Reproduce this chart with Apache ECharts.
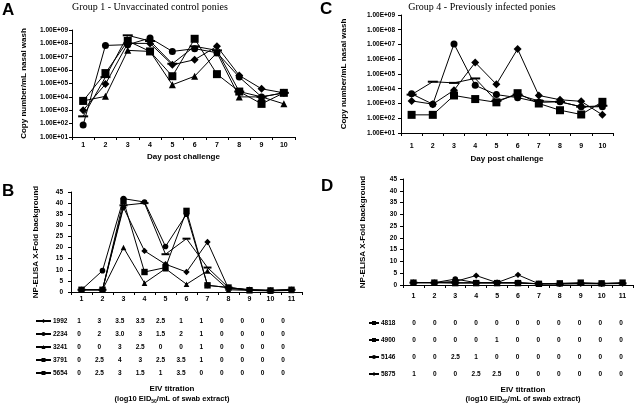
<!DOCTYPE html>
<html>
<head>
<meta charset="utf-8">
<script src="https://cdn.jsdelivr.net/npm/echarts@6/dist/echarts.min.js"></script>
<style>
  html, body { margin: 0; padding: 0; background: #fff; }
  #chart { width: 635px; height: 404px; }
</style>
</head>
<body>
<div id="chart"></div>
<script>
// x categories
const days = ["1", "2", "3", "4", "5", "6", "7", "8", "9", "10"];
const swabs = ["1", "2", "3", "4", "5", "6", "7", "8", "9", "10", "11"];

// A - group 1, copy number/mL (log scale)
const a1992 = [1e3, 9e4, 1e8, 1e8, 2.5e6, 6e6, 6e7, 4e5, 4e4, 2e4];
const a2234 = [80, 7e7, 8e7, 2.5e8, 2.5e7, 4e7, 2e7, 3e5, 1e4, 2e4];
const a3241 = [5e3, 1.1e4, 3e7, 2.5e7, 8e4, 3.5e5, 2e7, 1e4, 1e4, 3e3];
const a3791 = [350, 3e5, 4e8, 1.5e8, 3e6, 6e7, 3e7, 2.5e4, 1e4, 2e4];
const a5654 = [5e3, 6e5, 1.5e8, 2.5e7, 3.5e5, 2.2e8, 5e5, 2.5e4, 3e3, 2e4];

// C - group 4, copy number/mL (log scale)
const c4818 = [170, 170, 3.5e3, 2e3, 1.2e3, 5e3, 1e3, 350, 180, 1.3e3];
const c4900 = [4e3, 3e4, 2.5e4, 5e4, 1.5e3, 4e3, 1.5e3, 1.3e3, 600, 700];
const c5146 = [4.5e3, 900, 1.1e7, 1.7e4, 4e3, 2.5e3, 1.2e3, 1.3e3, 600, 600];
const c5875 = [1.5e3, 900, 8e3, 6e5, 2e4, 5e6, 3.5e3, 1.8e3, 1.4e3, 170];

// B - group 1, NP-ELISA x-fold
const b1992 = [1, 1, 38, 18.5, 12.5, 9, 22.5, 1.5, 1, 0.7, 1];
const b2234 = [1, 9.6, 42, 40.5, 20.5, 35, 3, 2, 1, 0.7, 1];
const b3241 = [1, 1, 20, 4, 10.5, 3.5, 9.5, 1, 0.7, 0.5, 0.7];
const b3791 = [1, 1, 39, 40, 17, 24, 11, 2, 1, 0.7, 1];
const b5654 = [1, 1, 41, 9, 11, 36.5, 3, 2, 0.8, 0.7, 1];

// D - group 4, NP-ELISA x-fold
const d4818 = [1, 1, 0.8, 0.8, 0.8, 0.8, 0.5, 0.7, 1, 0.7, 1];
const d4900 = [1, 1, 1, 1, 1, 1, 0.5, 0.5, 0.6, 0.6, 0.7];
const d5146 = [1, 1, 2.5, 1, 1, 1, 0.5, 0.5, 0.6, 0.6, 0.7];
const d5875 = [1, 1, 1.5, 4, 1, 4.3, 0.5, 0.5, 0.6, 0.5, 0.6];

// EIV titration tables
const ponyB = ["1992", "2234", "3241", "3791", "5654"];
const titreB = [
  ["1", "3", "3.5", "3.5", "2.5", "1", "1", "0", "0", "0", "0"],
  ["0", "2", "3.0", "3", "1.5", "2", "1", "0", "0", "0", "0"],
  ["0", "0", "3", "2.5", "0", "0", "1", "0", "0", "0", "0"],
  ["0", "2.5", "4", "3", "2.5", "3.5", "1", "0", "0", "0", "0"],
  ["0", "2.5", "3", "1.5", "1", "3.5", "0", "0", "0", "0", "0"]
];
const ponyD = ["4818", "4900", "5146", "5875"];
const titreD = [
  ["0", "0", "0", "0", "0", "0", "0", "0", "0", "0", "0"],
  ["0", "0", "0", "0", "1", "0", "0", "0", "0", "0", "0"],
  ["0", "0", "2.5", "1", "0", "0", "0", "0", "0", "0", "0"],
  ["1", "0", "0", "2.5", "2.5", "0", "0", "0", "0", "0", "0"]
];

const FONT = '"Liberation Sans", Arial, sans-serif';
const SERIF = '"Liberation Serif", "Times New Roman", serif';

const symbols = {
  "1992": ["diamond", 8], "2234": ["circle", 7], "3241": ["triangle", 7],
  "3791": ["rect", [10, 2]], "5654": ["rect", 8],
  "4818": ["rect", 8], "4900": ["rect", [10, 2]], "5146": ["circle", 7], "5875": ["diamond", 8]
};

function line(name, data, idx, scale) {
  const s = symbols[name];
  let size = s[1];
  if (scale) size = Array.isArray(size) ? [size[0] * scale, size[1]] : size * scale;
  return {
    name: name, type: "line", xAxisIndex: idx, yAxisIndex: idx, data: data,
    symbol: s[0], symbolSize: size, showAllSymbol: true,
    lineStyle: { color: "#000", width: 1 },
    itemStyle: { color: "#000" },
    emphasis: { disabled: true }
  };
}

const axisLbl = { color: "#000", fontFamily: FONT, fontWeight: "bold", fontSize: 6.5 };
const axisLn = { show: true, lineStyle: { color: "#000", width: 1 } };
const nameTs = { color: "#000", fontFamily: FONT, fontWeight: "bold", fontSize: 8 };

function expFmt(v) {
  const e = Math.round(Math.log10(v));
  return "1.00E+" + (e < 10 ? "0" : "") + e;
}

function catAxis(idx, data, margin, name, gap) {
  return {
    gridIndex: idx, type: "category", data: data, boundaryGap: true,
    axisLine: axisLn, axisTick: { show: true, length: 3, lineStyle: { color: "#000" } },
    axisLabel: Object.assign({ interval: 0, margin: margin }, axisLbl, { fontSize: 7 }),
    splitLine: { show: false },
    name: name, nameLocation: "middle", nameGap: gap, nameTextStyle: nameTs
  };
}

// table layout helpers
const graphics = [];
function txt(text, x, y, font, extra) {
  graphics.push({
    type: "text", silent: true,
    style: Object.assign({
      text: text, x: x, y: y, align: "center", verticalAlign: "middle",
      fontFamily: FONT, fontWeight: "bold", fontSize: font, fill: "#000"
    }, extra || {})
  });
}

// panel letters and titles
txt("A", 2, 10, 17, { align: "left" });
txt("B", 2, 191, 17, { align: "left" });
txt("C", 320, 9, 17, { align: "left" });
txt("D", 321, 186, 17, { align: "left" });
txt("Group 1 - Unvaccinated control ponies", 150, 7, 10, { fontFamily: SERIF, fontWeight: "normal" });
txt("Group 4 - Previously infected ponies", 482, 7, 10, { fontFamily: SERIF, fontWeight: "normal" });

// titration tables
titreB.forEach(function (row, r) {
  row.forEach(function (v, c) { txt(v, 79 + c * 20.4, 321 + r * 13, 6.5); });
});
titreD.forEach(function (row, r) {
  row.forEach(function (v, c) { txt(v, 414 + c * 20.7, 323 + r * 17, 6.5); });
});
const subRich = {
  rich: {
    a: { fontFamily: FONT, fontWeight: "bold", fontSize: 7.5, fill: "#000" },
    s: { fontFamily: FONT, fontWeight: "bold", fontSize: 5, fill: "#000", padding: [5, 0, 0, 0] }
  }
};
txt("EIV titration", 172, 389, 8);
txt("{a|(log10 EID}{s|50}{a|/mL of swab extract)}", 172, 399, 7.5, subRich);
txt("EIV titration", 523, 390, 8);
txt("{a|(log10 EID}{s|50}{a|/mL of swab extract)}", 523, 399, 7.5, subRich);

const option = {
  animation: false,
  backgroundColor: "#fff",
  grid: [
    { left: 72, top: 30, width: 223, height: 107 },
    { left: 401, top: 15, width: 212, height: 118 },
    { left: 71, top: 192, width: 231, height: 100 },
    { left: 403, top: 179, width: 230, height: 106 }
  ],
  xAxis: [
    catAxis(0, days, 5, "Day post challenge", 15.5),
    catAxis(1, days, 10, "Day post challenge", 21.5),
    catAxis(2, swabs, 4, "", 0),
    catAxis(3, swabs, 8, "", 0)
  ],
  yAxis: [
    {
      gridIndex: 0, type: "log", logBase: 10, min: 10, max: 1e9, interval: 1,
      axisLine: axisLn, axisTick: { show: true, length: 3, lineStyle: { color: "#000" } },
      axisLabel: Object.assign({ margin: 4, formatter: expFmt }, axisLbl),
      splitLine: { show: false }, minorTick: { show: false },
      name: "Copy number/mL nasal wash", nameLocation: "middle", nameRotate: 90, nameGap: 44.5,
      nameTextStyle: nameTs
    },
    {
      gridIndex: 1, type: "log", logBase: 10, min: 10, max: 1e9, interval: 1,
      axisLine: axisLn, axisTick: { show: true, length: 3, lineStyle: { color: "#000" } },
      axisLabel: Object.assign({ margin: 6, formatter: expFmt }, axisLbl),
      splitLine: { show: false },
      name: "Copy number/mL nasal wash", nameLocation: "middle", nameRotate: 90, nameGap: 53.5,
      nameTextStyle: nameTs
    },
    {
      gridIndex: 2, type: "value", min: 0, max: 45, interval: 5,
      axisLine: axisLn, axisTick: { show: true, length: 3, lineStyle: { color: "#000" } },
      axisLabel: Object.assign({ margin: 8 }, axisLbl),
      splitLine: { show: false },
      name: "NP-ELISA X-Fold background", nameLocation: "middle", nameRotate: 90, nameGap: 31.5,
      nameTextStyle: nameTs
    },
    {
      gridIndex: 3, type: "value", min: 0, max: 45, interval: 5,
      axisLine: axisLn, axisTick: { show: true, length: 3, lineStyle: { color: "#000" } },
      axisLabel: Object.assign({ margin: 6 }, axisLbl),
      splitLine: { show: false },
      name: "NP-ELISA X-Fold background", nameLocation: "middle", nameRotate: 90, nameGap: 36.5,
      nameTextStyle: nameTs
    }
  ],
  legend: [
    {
      data: ponyB, orient: "vertical", left: 35, top: 317.5, itemWidth: 15, itemHeight: 5,
      itemGap: 6, selectedMode: false, padding: 0,
      textStyle: { color: "#000", fontFamily: FONT, fontWeight: "bold", fontSize: 6.5, lineHeight: 7, padding: [0, 0, 0, -3] }
    },
    {
      data: ponyD, orient: "vertical", left: 368, top: 319.5, itemWidth: 10, itemHeight: 5,
      itemGap: 10, selectedMode: false, padding: 0,
      textStyle: { color: "#000", fontFamily: FONT, fontWeight: "bold", fontSize: 6.5, lineHeight: 7, padding: [0, 0, 0, -3] }
    }
  ],
  graphic: graphics,
  series: [
    line("1992", a1992, 0), line("2234", a2234, 0), line("3241", a3241, 0),
    line("3791", a3791, 0), line("5654", a5654, 0),
    line("4818", c4818, 1), line("4900", c4900, 1), line("5146", c5146, 1), line("5875", c5875, 1),
    line("1992", b1992, 2, 0.8), line("2234", b2234, 2, 0.8), line("3241", b3241, 2, 0.8),
    line("3791", b3791, 2, 0.8), line("5654", b5654, 2, 0.8),
    line("4818", d4818, 3, 0.8), line("4900", d4900, 3, 0.8), line("5146", d5146, 3, 0.8),
    line("5875", d5875, 3, 0.8)
  ]
};

const chart = echarts.init(document.getElementById("chart"), null, { renderer: "canvas" });
chart.setOption(option);
</script>
</body>
</html>
